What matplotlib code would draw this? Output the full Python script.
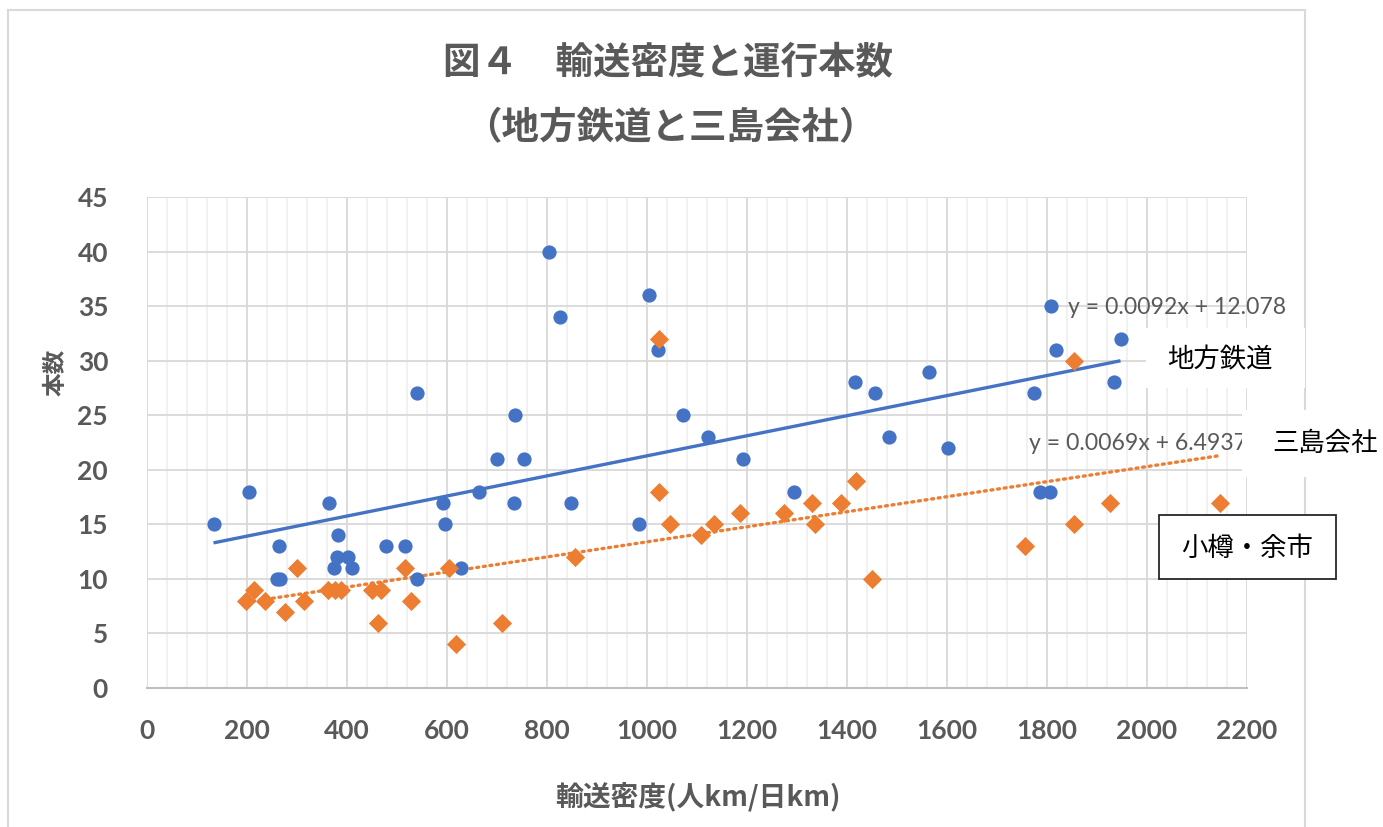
import numpy as np
import matplotlib.pyplot as plt
from matplotlib.patches import Rectangle
from matplotlib.ticker import MultipleLocator

# ── データ ────────────────────────────────────────────────────────────────
# 地方鉄道：輸送密度(人km/日km)と運行本数
local_density = [133, 203, 263, 259, 266, 363, 382, 379, 402, 374, 409, 478,
                 515, 539, 539, 591, 596, 627, 664, 699, 736, 734, 754, 804,
                 826, 847, 984, 1004, 1022, 1072, 1121, 1192, 1293, 1415, 1456,
                 1483, 1564, 1602, 1773, 1786, 1805, 1807, 1817, 1933, 1947]
local_trains = [15, 18, 13, 10, 10, 17, 14, 12, 12, 11, 11, 13,
                13, 27, 10, 17, 15, 11, 18, 21, 25, 17, 21, 40,
                34, 17, 15, 36, 31, 25, 23, 21, 18, 28, 27,
                23, 29, 22, 27, 18, 18, 35, 31, 28, 32]

# 三島会社（JR北海道・四国・九州）
jr_density = [198, 213, 236, 275, 299, 314, 362, 375, 388, 450, 468, 462,
              515, 527, 604, 617, 709, 856, 1023, 1023, 1046, 1108, 1133,
              1186, 1273, 1330, 1335, 1388, 1418, 1450, 1756, 1854, 1854,
              1926, 2145]
jr_trains = [8, 9, 8, 7, 11, 8, 9, 9, 9, 9, 9, 6,
             11, 8, 11, 4, 6, 12, 32, 18, 15, 14, 15,
             16, 16, 17, 15, 17, 19, 10, 13, 30, 15,
             17, 17]

# 近似直線の係数（数式ラベルと同じ値）
local_slope, local_icpt = 0.0092, 12.078
jr_slope, jr_icpt = 0.0069, 6.4937

x_ticks = np.arange(0, 2201, 200)
y_ticks = np.arange(0, 46, 5)

# ── 色・フォント ──────────────────────────────────────────────────────────
BLUE = '#4472C4'
ORANGE = '#ED7D31'
GRAY_TEXT = '#595959'
CJK = ['Noto Sans CJK JP', 'DejaVu Sans']
LATIN = ['Lato', 'DejaVu Sans']

W, H = 1383, 827
fig = plt.figure(figsize=(W / 100, H / 100), dpi=100)


def fx(px):
    return px / W


def fy(py):
    return 1 - py / H


ax = fig.add_axes([fx(147), fy(688), fx(1247) - fx(147), fy(197) - fy(688)])

# 散布図
ax.scatter(local_density, local_trains, s=105, marker='o', color=BLUE,
           linewidths=0, zorder=3)
ax.scatter(jr_density, jr_trains, s=95, marker='D', color=ORANGE,
           linewidths=0, zorder=3)

# 近似直線（データ範囲内）
xl = np.array([min(local_density), max(local_density)])
ax.plot(xl, local_slope * xl + local_icpt, color=BLUE, lw=2.4, zorder=2,
        solid_capstyle='butt')
xj = np.array([min(jr_density), max(jr_density)])
ax.plot(xj, jr_slope * xj + jr_icpt, color=ORANGE, lw=2.4, zorder=2,
        linestyle=(0, (0.6, 1.4)), dash_capstyle='round')

# 軸・目盛
ax.set_xlim(0, 2200)
ax.set_ylim(0, 45)
ax.set_xticks(x_ticks)
ax.set_yticks(y_ticks)
ax.xaxis.set_minor_locator(MultipleLocator(40))
ax.grid(which='major', color='#d9d9d9', lw=1.3)
ax.grid(which='minor', axis='x', color='#f0f0f0', lw=1.3)
ax.set_axisbelow(True)
for side in ['top', 'right', 'left']:
    ax.spines[side].set_visible(False)
ax.spines['bottom'].set_color('#bfbfbf')
ax.spines['bottom'].set_linewidth(1.5)
ax.tick_params(which='both', length=0)
ax.tick_params(axis='x', pad=22)
ax.tick_params(axis='y', pad=28)
for lab in ax.get_xticklabels() + ax.get_yticklabels():
    lab.set_family(LATIN)
    lab.set_fontweight('bold')
    lab.set_fontsize(19)
    lab.set_color(GRAY_TEXT)

# グラフエリアの枠
fig.add_artist(Rectangle((fx(8), fy(840)), fx(1305) - fx(8), fy(10) - fy(840),
                         transform=fig.transFigure, fill=False,
                         edgecolor='#d9d9d9', lw=1.5, zorder=1))

# タイトル・軸ラベル
fig.text(fx(668), fy(63), '図４　輸送密度と運行本数', ha='center', va='center',
         family=CJK, fontweight='bold', fontsize=27, color=GRAY_TEXT)
fig.text(fx(670), fy(128), '（地方鉄道と三島会社）', ha='center', va='center',
         family=CJK, fontweight='bold', fontsize=27, color=GRAY_TEXT)
fig.text(fx(698), fy(797), '輸送密度(人km/日km)', ha='center', va='center',
         family=CJK, fontweight='bold', fontsize=20, color=GRAY_TEXT)
fig.text(fx(56), fy(372), '本数', ha='center', va='center', rotation=90,
         family=CJK, fontweight='bold', fontsize=17, color=GRAY_TEXT)

# 近似式
fig.text(fx(1068), fy(308), f'y = {local_slope}x + {local_icpt}', ha='left',
         va='center', family=LATIN, fontsize=16.6, color=GRAY_TEXT, zorder=4)
fig.text(fx(1029), fy(443), f'y = {jr_slope}x + {jr_icpt}', ha='left',
         va='center', family=LATIN, fontsize=16.6, color=GRAY_TEXT, zorder=4)

# 系列名ラベル（白地の四角）
fig.add_artist(Rectangle((fx(1146), fy(388)), fx(1305) - fx(1146), fy(328) - fy(388),
                         transform=fig.transFigure, facecolor='white',
                         edgecolor='none', zorder=5))
fig.text(fx(1220), fy(360), '地方鉄道', ha='center', va='center',
         family=CJK, fontsize=19, color='black', zorder=6)

fig.add_artist(Rectangle((fx(1242), fy(477)), fx(1383) - fx(1242), fy(410) - fy(477),
                         transform=fig.transFigure, facecolor='white',
                         edgecolor='none', zorder=5))
fig.text(fx(1325), fy(443), '三島会社', ha='center', va='center',
         family=CJK, fontsize=19, color='black', zorder=6)

fig.add_artist(Rectangle((fx(1159), fy(579)), fx(1336) - fx(1159), fy(515) - fy(579),
                         transform=fig.transFigure, facecolor='white',
                         edgecolor='#262626', lw=1.3, zorder=5))
fig.text(fx(1247), fy(548), '小樽・余市', ha='center', va='center',
         family=CJK, fontsize=19, color='black', zorder=6)

plt.savefig('out.png', dpi=100)
